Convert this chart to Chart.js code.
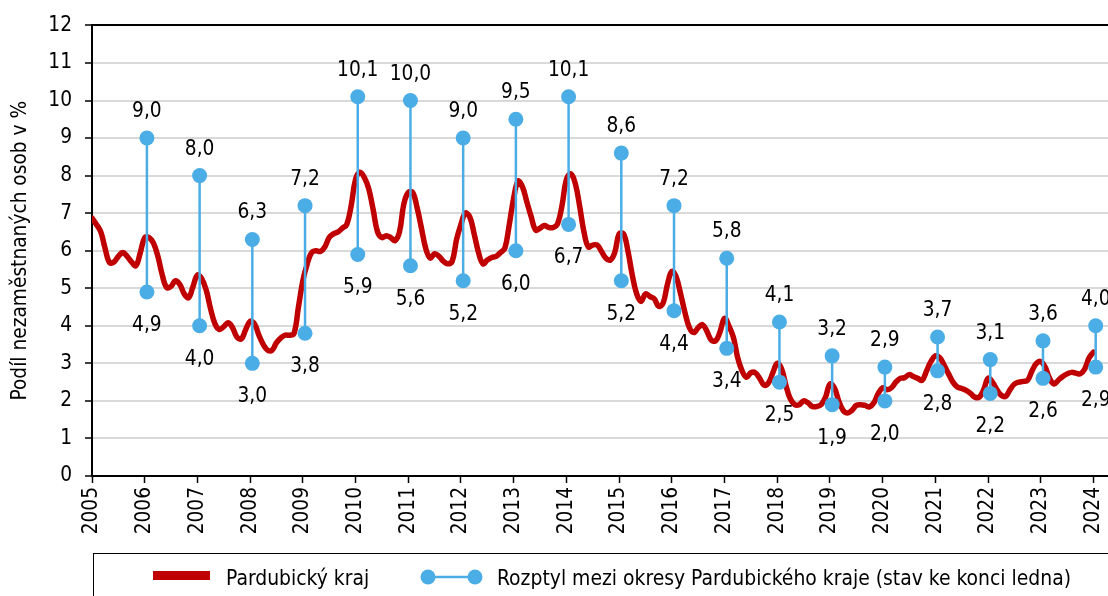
<!DOCTYPE html>
<html>
<head>
<meta charset="utf-8">
<script src="https://cdn.jsdelivr.net/npm/chart.js@4.4.1/dist/chart.umd.min.js"></script>
<style>
  html, body { margin: 0; padding: 0; background: #fff; overflow: hidden; }
  #wrap { position: relative; width: 1108px; height: 596px; overflow: hidden; font-family: "DejaVu Sans Condensed", "DejaVu Sans", sans-serif; color: #000; }
  #c { position: absolute; left: 0; top: 0; }
  #legbox { position: absolute; left: 93px; top: 553px; width: 1100px; height: 100px; border: 1.5px solid #000; box-sizing: border-box; }
  .lt { position: absolute; top: 566px; height: 24px; line-height: 24px; font-size: 20.9px; white-space: nowrap; }
  #sw1 { position: absolute; left: 153px; top: 571px; width: 57px; height: 9px; background: #C00000; }
  #sw2 { position: absolute; left: 418px; top: 565px; }
</style>
</head>
<body>
<div id="wrap">
  <canvas id="c" width="1108" height="596"></canvas>
  <div id="legbox"></div>
  <div id="sw1"></div>
  <div class="lt" style="left:226px">Pardubický kraj</div>
  <svg id="sw2" width="66" height="24"><line x1="10" y1="12" x2="57" y2="12" stroke="#4BADE6" stroke-width="2.5"/><circle cx="10" cy="12" r="7.5" fill="#4BADE6"/><circle cx="57" cy="12" r="7.5" fill="#4BADE6"/></svg>
  <div class="lt" style="left:497px">Rozptyl mezi okresy Pardubického kraje (stav ke konci ledna)</div>
</div>
<script>
// ---- data ----
const tickYears = [2005,2006,2007,2008,2009,2010,2011,2012,2013,2014,2015,2016,2017,2018,2019,2020,2021,2022,2023,2024];
const yTicks = [0,1,2,3,4,5,6,7,8,9,10,11,12];
// monthly share of unemployed persons, Pardubický kraj, Jan 2005 .. Jan 2024
const red2005 = [6.87,6.70,6.50,6.05,5.68,5.70,5.85,5.95,5.85,5.70,5.60,5.95];
const red2006 = [6.35,6.35,6.20,5.85,5.35,5.02,5.05,5.20,5.10,4.85,4.75,5.05];
const red2007 = [5.35,5.25,4.95,4.45,4.05,3.90,3.98,4.08,3.95,3.70,3.65,3.90];
const red2008 = [4.12,4.05,3.75,3.50,3.35,3.35,3.55,3.68,3.75,3.75,3.80,4.50];
const red2009 = [5.20,5.65,5.95,6.00,5.98,6.10,6.35,6.45,6.50,6.60,6.70,7.20];
const red2010 = [7.90,8.09,7.95,7.65,7.10,6.50,6.35,6.40,6.35,6.27,6.50,7.25];
const red2011 = [7.55,7.55,7.15,6.60,6.05,5.80,5.92,5.85,5.72,5.65,5.72,6.30];
const red2012 = [6.70,7.00,6.90,6.45,5.95,5.65,5.75,5.82,5.85,5.95,6.07,6.70];
const red2013 = [7.40,7.85,7.70,7.30,6.90,6.55,6.60,6.67,6.62,6.62,6.72,7.20];
const red2014 = [7.90,8.05,7.80,7.20,6.50,6.10,6.15,6.15,5.98,5.80,5.75,5.95];
const red2015 = [6.45,6.45,6.00,5.35,4.85,4.65,4.85,4.78,4.72,4.52,4.60,5.10];
const red2016 = [5.45,5.30,4.85,4.35,3.95,3.82,3.95,4.03,3.85,3.62,3.60,3.85];
const red2017 = [4.20,4.00,3.70,3.15,2.80,2.63,2.75,2.75,2.60,2.42,2.48,2.75];
const red2018 = [3.00,2.85,2.40,2.05,1.90,1.90,2.00,1.95,1.85,1.85,1.90,2.10];
const red2019 = [2.45,2.35,2.00,1.75,1.68,1.75,1.88,1.90,1.88,1.84,1.95,2.20];
const red2020 = [2.35,2.30,2.35,2.50,2.60,2.62,2.70,2.65,2.60,2.55,2.80,3.05];
const red2021 = [3.20,3.15,2.95,2.72,2.50,2.37,2.33,2.28,2.20,2.10,2.10,2.30];
const red2022 = [2.60,2.50,2.30,2.15,2.12,2.30,2.45,2.50,2.52,2.55,2.80,3.00];
const red2023 = [3.05,2.90,2.60,2.45,2.55,2.65,2.72,2.76,2.74,2.72,2.85,3.15];
const red2024 = [3.30];
const redMonthly = [].concat(red2005,red2006,red2007,red2008,red2009,red2010,red2011,red2012,red2013,red2014,red2015,red2016,red2017,red2018,red2019,red2020,red2021,red2022,red2023,red2024);

// spread between districts (end of January)
const rangeYears = [2006,2007,2008,2009,2010,2011,2012,2013,2014,2015,2016,2017,2018,2019,2020,2021,2022,2023,2024];
const rangeMax = [9.0,8.0,6.3,7.2,10.1,10.0,9.0,9.5,10.1,8.6,7.2,5.8,4.1,3.2,2.9,3.7,3.1,3.6,4.0];
const rangeMin = [4.9,4.0,3.0,3.8,5.9,5.6,5.2,6.0,6.7,5.2,4.4,3.4,2.5,1.9,2.0,2.8,2.2,2.6,2.9];

// ---- styling / helpers ----
const RED = '#C00000', BLUE = '#4BADE6';
const FONT = '"DejaVu Sans Condensed", "DejaVu Sans", sans-serif';
const FS = 20.7;
const endOfJan = 0.5; // blue markers sit at end of January
const monthOf = yr => (yr - tickYears[0]) * 12;
const fmt = v => v.toFixed(1).replace('.', ',');

const redData = redMonthly.map((v, i) => ({x: i, y: v}));
const blueData = [];
rangeYears.forEach((yr, i) => {
  const mx = monthOf(yr) + endOfJan;
  blueData.push({x: mx, y: rangeMax[i]}, {x: mx, y: rangeMin[i]}, {x: mx, y: null});
});

Chart.defaults.font.family = FONT;
Chart.defaults.font.size = FS;
Chart.defaults.color = '#000';

const labelPlugin = {
  id: 'rangeLabels',
  afterDatasetsDraw(chart) {
    const {ctx, scales: {x, y}} = chart;
    ctx.save();
    ctx.font = FS + 'px ' + FONT;
    ctx.fillStyle = '#000';
    ctx.textAlign = 'center';
    ctx.textBaseline = 'alphabetic';
    rangeYears.forEach((yr, i) => {
      const px = x.getPixelForValue(monthOf(yr) + endOfJan);
      ctx.fillText(fmt(rangeMax[i]), px, y.getPixelForValue(rangeMax[i]) - 21);
      ctx.fillText(fmt(rangeMin[i]), px, y.getPixelForValue(rangeMin[i]) + 39);
    });
    ctx.restore();
  }
};

new Chart(document.getElementById('c'), {
  type: 'line',
  data: {
    datasets: [
      {
        label: 'Rozptyl mezi okresy Pardubického kraje (stav ke konci ledna)',
        data: blueData,
        borderColor: BLUE,
        backgroundColor: BLUE,
        borderWidth: 2.5,
        pointRadius: 7.5,
        pointBorderWidth: 0,
        pointBackgroundColor: BLUE,
        spanGaps: false,
        tension: 0,
        order: 0
      },
      {
        label: 'Pardubický kraj',
        data: redData,
        borderColor: RED,
        borderWidth: 5.5,
        pointRadius: 0,
        tension: 0.4,
        borderCapStyle: 'round',
        borderJoinStyle: 'round',
        order: 1
      }
    ]
  },
  options: {
    responsive: false,
    animation: false,
    devicePixelRatio: 1,
    layout: { autoPadding: false, padding: { top: 23, right: 0, bottom: 0, left: 0 } },
    plugins: { legend: { display: false }, tooltip: { enabled: false } },
    scales: {
      x: {
        type: 'linear',
        min: 0,
        max: 231.3,
        afterBuildTicks: s => { s.ticks = tickYears.map(yr => ({value: monthOf(yr)})); },
        afterFit: s => { s.height = 120; s.paddingRight = 0; s.paddingLeft = 0; },
        ticks: {
          autoSkip: false,
          minRotation: 90,
          maxRotation: 90,
          padding: 4,
          font: { size: FS },
          callback: v => String(tickYears[0] + Math.round(v / 12))
        },
        grid: { drawOnChartArea: false, drawTicks: true, tickLength: 7, tickColor: '#000', tickWidth: 1.5 },
        border: { color: '#000', width: 2 }
      },
      y: {
        min: 0,
        max: 12,
        afterBuildTicks: s => { s.ticks = yTicks.map(v => ({value: v})); },
        afterFit: s => { s.width = 92; },
        ticks: { padding: 13, font: { size: FS }, callback: v => String(v) },
        grid: {
          color: c => (c.tick && c.tick.value === 12) ? '#000' : '#d9d9d9',
          lineWidth: 2,
          tickColor: '#000',
          tickLength: 7,
          tickWidth: 1.5
        },
        border: { color: '#000', width: 2 },
        title: {
          display: true,
          text: 'Podíl nezaměstnaných osob v %',
          font: { size: FS },
          color: '#000',
          padding: { top: 8, bottom: 0 }
        }
      }
    }
  },
  plugins: [labelPlugin]
});
</script>
</body>
</html>
